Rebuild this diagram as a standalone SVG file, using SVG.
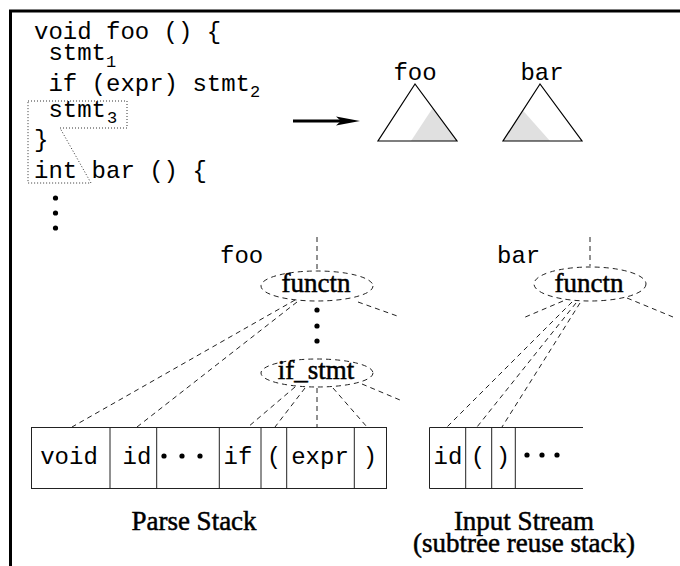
<svg xmlns="http://www.w3.org/2000/svg" width="680" height="566" viewBox="0 0 680 566">
  <style>
    .code { font-family: "Liberation Mono", "Courier New", monospace; font-size: 24px; fill: #000; }
    .sub { font-family: "Liberation Mono", "Courier New", monospace; font-size: 17px; fill: #000; }
    .lbl { font-family: "Liberation Serif", "Times New Roman", serif; font-size: 27px; fill: #000; stroke: #000; stroke-width: 0.5; text-anchor: middle; }
    .node { font-family: "Liberation Serif", "Times New Roman", serif; font-size: 27px; fill: #000; stroke: #000; stroke-width: 0.5; text-anchor: middle; }
    .dash { fill: none; stroke: #222; stroke-width: 1; stroke-dasharray: 5 4; }
    .dot { fill: none; stroke: #333; stroke-width: 1; stroke-dasharray: 1 2; }
    .cell { fill: none; stroke: #222; stroke-width: 1; }
    .frame { fill: none; stroke: #000; stroke-width: 3; }
    .shade { fill: #e0e0e0; stroke: none; }
    .tri { fill: none; stroke: #000; stroke-width: 1.2; stroke-linejoin: miter; }
  </style>

  <!-- frame (top and left edges) -->
  <path class="frame" d="M680 11 H10.5 V566"/>

  <!-- source code listing -->
  <g id="source">
    <text class="code" x="34" y="39">void foo () {</text>
    <text class="code" x="48.4" y="60">stmt</text>
    <text class="sub" x="106" y="67">1</text>
    <text class="code" x="48.4" y="91">if (expr) stmt</text>
    <text class="sub" x="250" y="97">2</text>
    <text class="code" x="48.4" y="117">stmt</text>
    <text class="sub" x="107" y="123">3</text>
    <text class="code" x="34" y="147">}</text>
    <text class="code" x="34" y="178">int bar () {</text>
    <circle cx="55.5" cy="198" r="2.6"/>
    <circle cx="55.5" cy="213" r="2.6"/>
    <circle cx="55.5" cy="228" r="2.6"/>
    <!-- edited region -->
    <polygon class="dot" points="28,101 127,101 127,128 60,128 91,183 28,183"/>
  </g>

  <!-- transformation arrow -->
  <g id="arrow">
    <line x1="293" y1="121" x2="344" y2="121" stroke="#000" stroke-width="3"/>
    <polygon points="336,116.5 360,121 336,125.5 341,121" fill="#000"/>
  </g>

  <!-- foo subtree -->
  <g id="tree-foo">
    <polygon class="shade" points="411,141 432.7,108 457,141"/>
    <polygon class="tri" points="415,84 378,141 457,141"/>
    <text class="code" x="415" y="80" text-anchor="middle">foo</text>
  </g>

  <!-- bar subtree -->
  <g id="tree-bar">
    <polygon class="shade" points="503,141 522.5,110 550,141"/>
    <polygon class="tri" points="540,84 503,141 582,141"/>
    <text class="code" x="542" y="80" text-anchor="middle">bar</text>
  </g>

  <!-- connectors -->
  <g id="connectors">
    <!-- foo functn -->
    <line class="dash" x1="317" y1="237" x2="317" y2="269"/>
    <line class="dash" x1="295" y1="300" x2="72" y2="427"/>
    <line class="dash" x1="297" y1="302" x2="137" y2="427"/>
    <line class="dash" x1="358" y1="302" x2="400" y2="317"/>
    <!-- if_stmt -->
    <line class="dash" x1="295" y1="387" x2="248" y2="427"/>
    <line class="dash" x1="305" y1="388" x2="275" y2="427"/>
    <line class="dash" x1="317" y1="388" x2="317" y2="427"/>
    <line class="dash" x1="333" y1="388" x2="367" y2="427"/>
    <line class="dash" x1="362" y1="384" x2="400" y2="400"/>
    <!-- bar functn -->
    <line class="dash" x1="590" y1="237" x2="590" y2="266"/>
    <line class="dash" x1="563" y1="301" x2="523" y2="318"/>
    <line class="dash" x1="627" y1="298" x2="673" y2="317"/>
    <line class="dash" x1="572" y1="302" x2="447" y2="427"/>
    <line class="dash" x1="576" y1="303" x2="477" y2="427"/>
    <line class="dash" x1="580" y1="303" x2="502" y2="427"/>
  </g>

  <!-- parse tree nodes -->
  <g id="node-foo-functn">
    <text class="code" x="220" y="263">foo</text>
    <ellipse class="dash" cx="317" cy="286" rx="56" ry="15"/>
    <text class="node" x="316" y="292">functn</text>
  </g>
  <g id="ellipsis-foo">
    <circle cx="317" cy="310" r="2.6"/>
    <circle cx="317" cy="326" r="2.6"/>
    <circle cx="317" cy="341" r="2.6"/>
  </g>
  <g id="node-if-stmt">
    <ellipse class="dash" cx="317" cy="373" rx="56" ry="14"/>
    <text class="node" x="316" y="379">if_stmt</text>
  </g>
  <g id="node-bar-functn">
    <text class="code" x="497" y="263">bar</text>
    <ellipse class="dash" cx="590" cy="284" rx="56" ry="17"/>
    <text class="node" x="589" y="292">functn</text>
  </g>

  <!-- parse stack -->
  <g id="parse-stack">
    <rect class="cell" x="31.5" y="427.5" width="355" height="61"/>
    <path class="cell" d="M110 427.5 V488.5 M156.7 427.5 V488.5 M219.3 427.5 V488.5 M261 427.5 V488.5 M286.7 427.5 V488.5 M354.3 427.5 V488.5"/>
    <text class="code" x="69" y="464" text-anchor="middle">void</text>
    <text class="code" x="137" y="464" text-anchor="middle">id</text>
    <circle cx="164" cy="456" r="2.6"/>
    <circle cx="182" cy="456" r="2.6"/>
    <circle cx="200" cy="456" r="2.6"/>
    <text class="code" x="238" y="464" text-anchor="middle">if</text>
    <text class="code" x="274" y="464" text-anchor="middle">(</text>
    <text class="code" x="320" y="464" text-anchor="middle">expr</text>
    <text class="code" x="370" y="464" text-anchor="middle">)</text>
    <text class="lbl" x="194" y="530">Parse Stack</text>
  </g>

  <!-- input stream -->
  <g id="input-stream">
    <path class="cell" d="M583 427.5 H429.5 V488.5 H583 M465.7 427.5 V488.5 M491.7 427.5 V488.5 M515.3 427.5 V488.5"/>
    <text class="code" x="448" y="464" text-anchor="middle">id</text>
    <text class="code" x="478" y="464" text-anchor="middle">(</text>
    <text class="code" x="503" y="464" text-anchor="middle">)</text>
    <circle cx="527" cy="455" r="2.6"/>
    <circle cx="542" cy="455" r="2.6"/>
    <circle cx="557" cy="455" r="2.6"/>
    <text class="lbl" x="524" y="530">Input Stream</text>
    <text class="lbl" x="524" y="552">(subtree reuse stack)</text>
  </g>
</svg>
